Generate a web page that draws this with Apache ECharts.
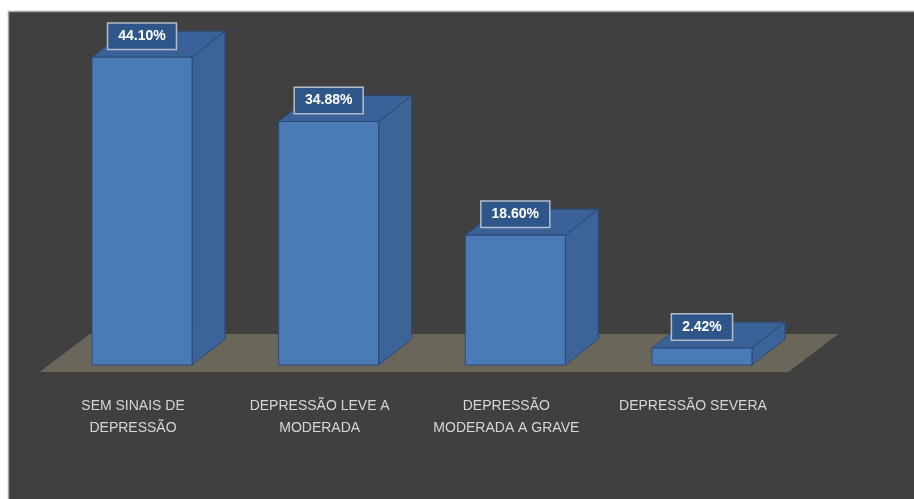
<!DOCTYPE html>
<html>
<head>
<meta charset="utf-8">
<script src="https://cdn.jsdelivr.net/npm/echarts@6/dist/echarts.min.js"></script>
<style>
html,body{margin:0;padding:0;background:#fff;}
#c{width:914px;height:499px;}
</style>
</head>
<body>
<div id="c"></div>
<script>
const categories = ['SEM SINAIS DE\nDEPRESSÃO', 'DEPRESSÃO LEVE A\nMODERADA', 'DEPRESSÃO\nMODERADA A GRAVE', 'DEPRESSÃO SEVERA'];
const values = [44.10, 34.88, 18.60, 2.42];
const valueLabels = ['44.10%', '34.88%', '18.60%', '2.42%'];

const chart = echarts.init(document.getElementById('c'), null, {renderer: 'canvas'});

const DX = 33, DY = -26;

function renderBar(params, api) {
  const idx = api.value(0);
  const v = api.value(1);
  const top = api.coord([idx, v]);
  const base = api.coord([idx, 0]);
  const band = api.size([1, 0])[0];
  const w = band * 0.536;
  const cx = top[0];
  const l = cx - w / 2, r = cx + w / 2;
  const ty = top[1], by = base[1];
  const edge = '#2b4a78';
  return {
    type: 'group',
    children: [
      {type: 'polygon', shape: {points: [[r, ty], [r + DX, ty + DY], [r + DX, by + DY], [r, by]]},
       style: {fill: '#3d6498', stroke: edge, lineWidth: 1}},
      {type: 'polygon', shape: {points: [[l, ty], [l + DX, ty + DY], [r + DX, ty + DY], [r, ty]]},
       style: {fill: '#3a6298', stroke: edge, lineWidth: 1}},
      {type: 'rect', shape: {x: l, y: ty, width: w, height: by - ty},
       style: {fill: '#4a7bb7', stroke: edge, lineWidth: 1}},
      {type: 'text', x: cx, y: ty - 21,
       style: {text: valueLabels[params.dataIndex], fill: '#ffffff',
         font: 'bold 14px "Liberation Sans Narrow", "Liberation Sans", sans-serif',
         align: 'center', verticalAlign: 'middle',
         backgroundColor: '#2f5689', borderColor: '#b4bccb', borderWidth: 1.5,
         padding: [6, 10, 5, 10]}}
    ]
  };
}

function renderFloor(params, api) {
  const cs = params.coordSys;
  const y0 = api.coord([0, 0])[1];
  const fy = y0 + 7;
  const fl = cs.x - 9, fr = cs.x + cs.width - 7;
  const FDX = 50, FDY = -38;
  return {
    type: 'polygon',
    shape: {points: [[fl, fy], [fr, fy], [fr + FDX, fy + FDY], [fl + FDX, fy + FDY]]},
    style: {fill: '#6a665a'}
  };
}

chart.setOption({
  backgroundColor: '#ffffff',
  animation: false,
  graphic: [{
    type: 'rect', z: -10, silent: true,
    shape: {x: 8.5, y: 11.5, width: 910, height: 492},
    style: {fill: '#404040', stroke: '#a3a3a3', lineWidth: 1.5}
  }],
  grid: {left: 48.7, right: 118.7, top: 16, bottom: 134, containLabel: false},
  xAxis: {
    type: 'category', data: categories,
    axisLine: {show: false}, axisTick: {show: false}, splitLine: {show: false},
    axisLabel: {color: '#d6d6d6', fontSize: 14, lineHeight: 22, margin: 30,
      fontFamily: '"Liberation Sans Narrow", "Liberation Sans", sans-serif',
      padding: [0, 18, 0, 0], interval: 0}
  },
  yAxis: {type: 'value', min: 0, max: 50, show: false},
  series: [
    {type: 'custom', z: 1, renderItem: renderFloor, data: [[0, 0]], silent: true},
    {type: 'custom', z: 2, renderItem: renderBar,
     data: values.map((v, i) => [i, v]), encode: {x: 0, y: 1}}
  ]
});
</script>
</body>
</html>
